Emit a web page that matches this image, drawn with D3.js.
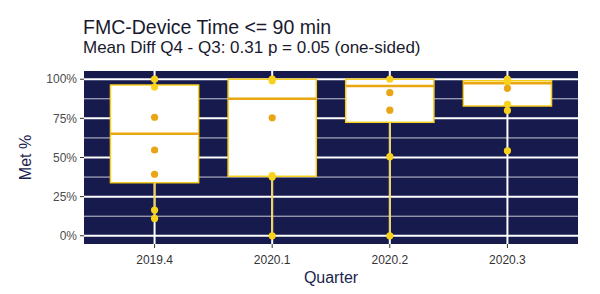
<!DOCTYPE html>
<html>
<head>
<meta charset="utf-8">
<script src="https://cdn.jsdelivr.net/npm/d3@7"></script>
<style>
  body { margin: 0; background: #fff; }
  text { font-family: "Liberation Sans", Arial, sans-serif; }
</style>
</head>
<body>
<div id="root"></div>
<script>
const quarters = ['2019.4', '2020.1', '2020.2', '2020.3'];
const q1 = [0.339, 0.38, 0.725, 0.829];
const median = [0.652, 0.876, 0.957, 0.975];
const q3 = [0.963, 1.0, 1.0, 0.99];
const whiskerLow = [0.111, 0.0, 0.0, 0.829];
const whiskerHigh = [1.0, 1.0, 1.0, 1.0];
const points = [
  [1.0, 0.95, 0.757, 0.548, 0.393, 0.164, 0.111],
  [1.0, 0.99, 0.754, 0.384, 0.375, 0.0],
  [1.0, 0.914, 0.802, 0.505, 0.0],
  [1.0, 0.985, 0.942, 0.84, 0.80, 0.543],
];
const yTicks = [0, 0.25, 0.5, 0.75, 1];
const yMinor = [0.125, 0.375, 0.625, 0.875];

const width = 600;
const height = 294;
const panel = {left: 84, right: 578, top: 71, bottom: 244};

const svg = d3.select('#root')
  .append('svg')
  .attr('width', width)
  .attr('height', height);

const x = d3.scalePoint()
  .domain(quarters)
  .range([panel.left, panel.right])
  .padding(0.6);
const step = x.step();
const boxW = step * 0.75;

const y = d3.scaleLinear()
  .domain([-0.0525, 1.0525])
  .range([panel.bottom, panel.top]);

// panel
svg.append('rect')
  .attr('x', panel.left)
  .attr('y', panel.top)
  .attr('width', panel.right - panel.left)
  .attr('height', panel.bottom - panel.top)
  .attr('fill', '#161a4c');

svg.append('g')
  .selectAll('line')
  .data(yMinor)
  .enter()
  .append('line')
  .attr('x1', panel.left)
  .attr('x2', panel.right)
  .attr('y1', (d) => y(d))
  .attr('y2', (d) => y(d))
  .attr('stroke', '#c9cad6')
  .attr('stroke-width', 1);

svg.append('g')
  .selectAll('line')
  .data(yTicks)
  .enter()
  .append('line')
  .attr('x1', panel.left)
  .attr('x2', panel.right)
  .attr('y1', (d) => y(d))
  .attr('y2', (d) => y(d))
  .attr('stroke', '#ffffff')
  .attr('stroke-width', 2);

svg.append('g')
  .selectAll('line')
  .data(quarters)
  .enter()
  .append('line')
  .attr('x1', (d) => x(d))
  .attr('x2', (d) => x(d))
  .attr('y1', panel.top)
  .attr('y2', panel.bottom)
  .attr('stroke', '#ffffff')
  .attr('stroke-width', 2);

// boxes
const boxes = svg.append('g')
  .selectAll('g')
  .data(quarters)
  .enter()
  .append('g');

boxes.append('line')
  .attr('x1', (d) => x(d))
  .attr('x2', (d) => x(d))
  .attr('y1', (d, i) => y(whiskerLow[i]))
  .attr('y2', (d, i) => y(whiskerHigh[i]))
  .attr('stroke', '#f5d23a')
  .attr('stroke-width', 1.5);

boxes.append('rect')
  .attr('x', (d) => x(d) - boxW / 2)
  .attr('y', (d, i) => y(q3[i]))
  .attr('width', boxW)
  .attr('height', (d, i) => y(q1[i]) - y(q3[i]))
  .attr('fill', '#ffffff')
  .attr('stroke', '#f7cf1e')
  .attr('stroke-width', 1.5);

boxes.append('line')
  .attr('x1', (d) => x(d) - boxW / 2)
  .attr('x2', (d) => x(d) + boxW / 2)
  .attr('y1', (d, i) => y(median[i]))
  .attr('y2', (d, i) => y(median[i]))
  .attr('stroke', '#eaa612')
  .attr('stroke-width', 2.5);

// points
const flat = [];
points.forEach((vals, i) => vals.forEach((v) => flat.push({q: quarters[i], i, v})));

svg.append('g')
  .selectAll('circle')
  .data(flat)
  .enter()
  .append('circle')
  .attr('cx', (d) => x(d.q))
  .attr('cy', (d) => y(d.v))
  .attr('r', 3.6)
  .attr('fill', (d) => (d.v > q1[d.i] + 0.02 && d.v < q3[d.i] - 0.02) ? '#e9a514' : '#f9d21c');

// axes
const yAxis = svg.append('g');
yAxis.selectAll('line')
  .data(yTicks)
  .enter()
  .append('line')
  .attr('x1', panel.left - 4)
  .attr('x2', panel.left)
  .attr('y1', (d) => y(d))
  .attr('y2', (d) => y(d))
  .attr('stroke', '#333')
  .attr('stroke-width', 1);
yAxis.selectAll('text')
  .data(yTicks)
  .enter()
  .append('text')
  .attr('x', panel.left - 7)
  .attr('y', (d) => y(d))
  .attr('dy', '0.35em')
  .attr('text-anchor', 'end')
  .attr('font-size', 12)
  .attr('fill', '#4d4d4d')
  .text((d) => d3.format('.0%')(d));

const xAxis = svg.append('g');
xAxis.selectAll('line')
  .data(quarters)
  .enter()
  .append('line')
  .attr('x1', (d) => x(d))
  .attr('x2', (d) => x(d))
  .attr('y1', panel.bottom)
  .attr('y2', panel.bottom + 4)
  .attr('stroke', '#333')
  .attr('stroke-width', 1);
xAxis.selectAll('text')
  .data(quarters)
  .enter()
  .append('text')
  .attr('x', (d) => x(d))
  .attr('y', 264)
  .attr('text-anchor', 'middle')
  .attr('font-size', 12)
  .attr('fill', '#333')
  .text((d) => d);

svg.append('text')
  .attr('x', (panel.left + panel.right) / 2)
  .attr('y', 283)
  .attr('text-anchor', 'middle')
  .attr('font-size', 16)
  .attr('fill', '#1b1f4f')
  .text('Quarter');

svg.append('text')
  .attr('transform', `translate(31,${(panel.top + panel.bottom) / 2}) rotate(-90)`)
  .attr('text-anchor', 'middle')
  .attr('font-size', 16)
  .attr('fill', '#1b1f4f')
  .text('Met %');

svg.append('text')
  .attr('x', 83)
  .attr('y', 34)
  .attr('font-size', 19.5)
  .attr('fill', '#1a1a2e')
  .text('FMC-Device Time <= 90 min');

svg.append('text')
  .attr('x', 83)
  .attr('y', 53)
  .attr('font-size', 17)
  .attr('fill', '#1a1a2e')
  .text('Mean Diff Q4 - Q3: 0.31 p = 0.05 (one-sided)');
</script>
</body>
</html>
